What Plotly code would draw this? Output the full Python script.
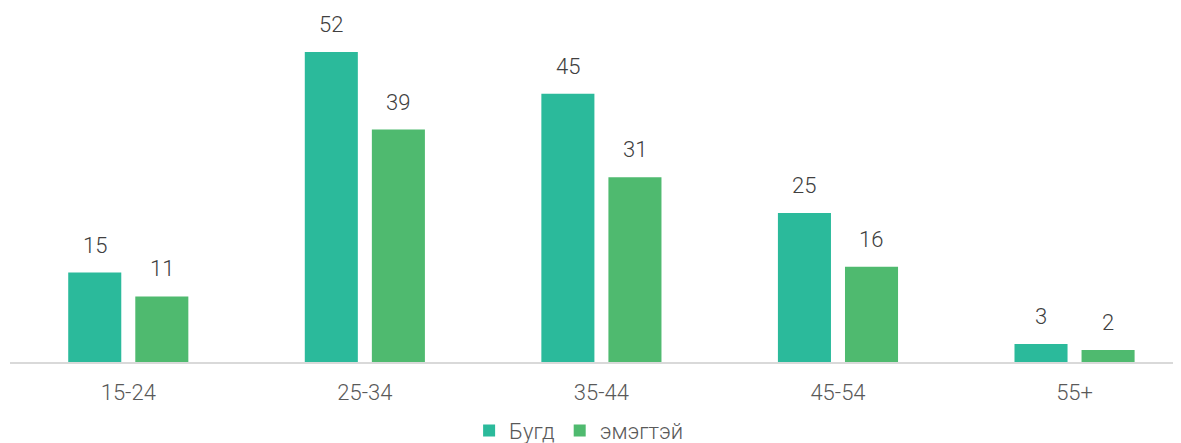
import plotly.graph_objects as go

categories = ["15-24", "25-34", "35-44", "45-54", "55+"]
total = [15, 52, 45, 25, 3]
female = [11, 39, 31, 16, 2]
series_names = ["Бугд", "эмэгтэй"]

font_family = "Roboto"
label_font = dict(size=22, color="#404040", family=font_family, weight=300)

fig = go.Figure()
fig.add_trace(go.Bar(x=categories, y=total, name=series_names[0],
                     marker=dict(color="#2BBA9B", line=dict(width=0))))
fig.add_trace(go.Bar(x=categories, y=female, name=series_names[1],
                     marker=dict(color="#4FBA6F", line=dict(width=0))))

# value labels above bars
for series, shift in ((total, -33.5), (female, 33.5)):
    for c, v in zip(categories, series):
        fig.add_annotation(x=c, y=v, xref="x", yref="y", text=str(v),
                           showarrow=False, xshift=shift, yshift=13,
                           yanchor="bottom", font=label_font)

fig.update_layout(
    width=1173, height=435,
    margin=dict(l=2, r=0, t=0, b=81, autoexpand=False),
    paper_bgcolor="white", plot_bgcolor="white",
    barmode="group", bargap=0.433, bargroupgap=0.209,
    font=dict(family=font_family, size=22, color="#595959", weight=300),
    showlegend=True,
    legend=dict(orientation="h", x=0.486, xanchor="center", y=-0.194, yanchor="middle",
                font=dict(size=22, color="#595959", family=font_family, weight=300),
                itemwidth=30, traceorder="normal"),
    xaxis=dict(range=[-0.5, 4.45], showline=True, linecolor="#D9D9D9", linewidth=2,
               ticks="", showgrid=False, ticklabelstandoff=10,
               tickfont=dict(size=22, color="#595959", family=font_family, weight=300)),
    yaxis=dict(range=[0, 59.4], visible=False, showgrid=False, zeroline=False),
)

fig.write_html("out.html")
